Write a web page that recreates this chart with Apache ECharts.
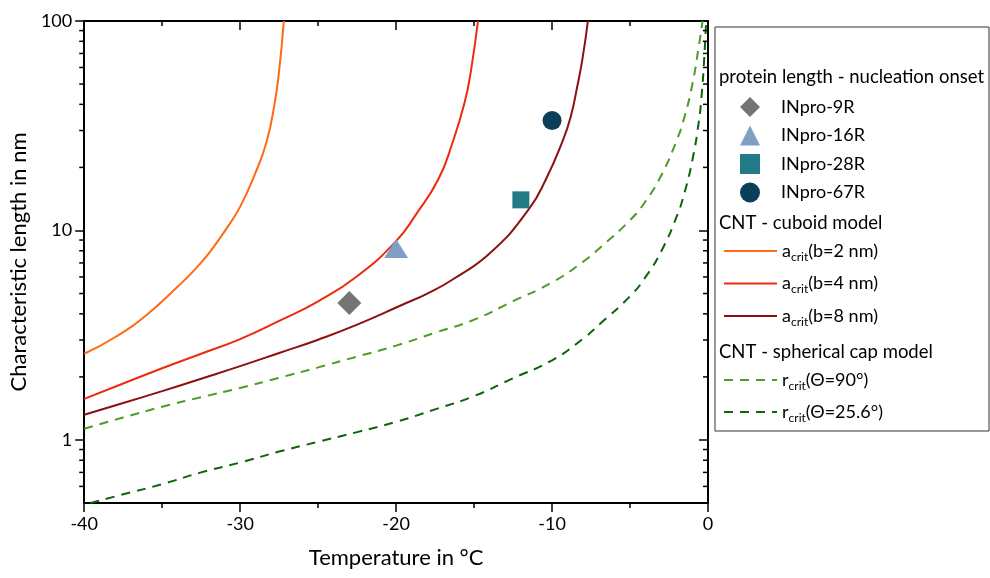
<!DOCTYPE html>
<html>
<head>
<meta charset="utf-8">
<script src="https://cdn.jsdelivr.net/npm/echarts@6.0.0/dist/echarts.min.js"></script>
<style>
  html, body { margin: 0; padding: 0; background: #fff; }
  #chart { width: 990px; height: 578px; }
</style>
</head>
<body>
<div id="chart"></div>
<script>
// values
const tempB2 = [-40, -38, -36, -34, -33, -32, -31, -30, -29, -28.3, -27.8, -27.5, -27.2];
const lenB2 = [2.58, 3.1, 3.95, 5.4, 6.4, 7.8, 9.9, 13.0, 19, 26.6, 40, 58, 100];

const tempB4 = [-40, -37.5, -35, -32.5, -30, -27.5, -25, -22.5, -20, -18.7, -17.3, -16.4, -15.6, -15.2, -14.75];
const lenB4 = [1.57, 1.86, 2.2, 2.58, 3.03, 3.7, 4.59, 6.05, 8.9, 12.0, 17.5, 26, 41, 58, 100];

const tempB8 = [-40, -37.5, -35, -32.5, -30, -27.5, -25, -22.5, -19.6, -18, -16.4, -13.9, -11.5, -10.4, -9.3, -8.8, -8.4, -8.05, -7.7];
const lenB8 = [1.32, 1.5, 1.71, 1.96, 2.25, 2.6, 3.01, 3.55, 4.42, 5.0, 5.82, 7.9, 12.6, 17.5, 27, 35, 48, 66, 100];

const tempCap90 = [-40, -37.5, -35, -32.5, -30, -27.5, -25, -22.5, -20, -17.5, -15, -12.5, -10, -8, -6.9, -5, -4, -3, -2, -1.5, -1, -0.6, -0.35];
const lenCap90 = [1.13, 1.28, 1.44, 1.6, 1.77, 1.98, 2.22, 2.5, 2.82, 3.25, 3.75, 4.6, 5.65, 7.1, 8.3, 11.2, 13.8, 18.3, 27, 35, 50, 75, 100];

const tempCap25 = [-39.6, -37.5, -35, -32.5, -30, -27.5, -25, -22.5, -20, -17.5, -15, -12.5, -10, -8, -6.9, -5, -4, -3, -2, -1.5, -1, -0.6, -0.4, -0.25, -0.12];
const lenCap25 = [0.5, 0.55, 0.615, 0.7, 0.78, 0.88, 0.98, 1.09, 1.22, 1.4, 1.62, 1.97, 2.4, 3.05, 3.6, 4.85, 6.0, 7.95, 11.7, 15.2, 21.7, 32.6, 45, 65, 100];

const proteinNames = ['INpro-9R', 'INpro-16R', 'INpro-28R', 'INpro-67R'];
const proteinTemp = [-23, -20, -12, -10];
const proteinLen = [4.5, 8.2, 14, 33.5];

const cuboidNames = ['acrit(b=2 nm)', 'acrit(b=4 nm)', 'acrit(b=8 nm)'];
const capNames = ['rcrit(Θ=90°)', 'rcrit(Θ=25.6°)'];
const legendLabels = {
  'acrit(b=2 nm)': 'a{sub|crit}(b=2 nm)',
  'acrit(b=4 nm)': 'a{sub|crit}(b=4 nm)',
  'acrit(b=8 nm)': 'a{sub|crit}(b=8 nm)',
  'rcrit(Θ=90°)': 'r{sub|crit}(Θ=90°)',
  'rcrit(Θ=25.6°)': 'r{sub|crit}(Θ=25.6°)'
};

const yMinorTicks = [0.6, 0.7, 0.8, 0.9, 2, 3, 4, 5, 6, 7, 8, 9, 20, 30, 40, 50, 60, 70, 80, 90];

const FONT = 'Lato';
const zip = (xs, ys) => xs.map((x, i) => [x, ys[i]]);

const markerStyle = [
  { symbol: 'diamond', size: 24, color: '#747474' },
  { symbol: 'triangle', size: [24, 19], color: '#809fc5' },
  { symbol: 'rect', size: 17, color: '#237b88' },
  { symbol: 'circle', size: 19, color: '#0b3e59' }
];

function curve(name, xs, ys, color, dashed) {
  return {
    name: name,
    type: 'line',
    data: zip(xs, ys),
    showSymbol: false,
    symbol: 'none',
    smooth: 0.5,
    lineStyle: { color: color, width: 2, type: dashed ? [9, 7] : 'solid' },
    itemStyle: { color: color },
    z: 3
  };
}

const series = [
  curve(cuboidNames[0], tempB2, lenB2, '#ff6a13'),
  curve(cuboidNames[1], tempB4, lenB4, '#ee2a0c'),
  curve(cuboidNames[2], tempB8, lenB8, '#8c1010'),
  curve(capNames[0], tempCap90, lenCap90, '#4e9a2a', true),
  curve(capNames[1], tempCap25, lenCap25, '#0a640a', true)
];

proteinNames.forEach((n, i) => {
  series.push({
    name: n,
    type: 'scatter',
    data: [[proteinTemp[i], proteinLen[i]]],
    symbol: markerStyle[i].symbol,
    symbolSize: markerStyle[i].size,
    itemStyle: { color: markerStyle[i].color, opacity: 1 },
    z: 4
  });
});

// minor ticks of the log axes (left outward, right inward)
series.push({
  type: 'custom',
  silent: true,
  clip: false,
  z: 6,
  data: yMinorTicks.map(v => [-40, v]),
  renderItem: function (params, api) {
    const p = api.coord([-40, api.value(1)]);
    const q = api.coord([0, api.value(1)]);
    const st = { stroke: '#000', lineWidth: 1.5 };
    return {
      type: 'group',
      children: [
        { type: 'line', shape: { x1: p[0] - 5, y1: p[1], x2: p[0], y2: p[1] }, style: st },
        { type: 'line', shape: { x1: q[0] - 5, y1: q[1], x2: q[0], y2: q[1] }, style: st }
      ]
    };
  }
});

const axisLine = { show: true, onZero: false, lineStyle: { color: '#000', width: 2 } };
const lineLegendText = {
  fontFamily: FONT,
  fontSize: 18,
  color: '#000',
  lineHeight: 20,
  rich: {
    sub: { fontFamily: FONT, fontSize: 12, lineHeight: 12, padding: [12, 0, 0, 0], color: '#000' }
  }
};

const chart = echarts.init(document.getElementById('chart'));
chart.setOption({
  animation: false,
  backgroundColor: '#fff',
  grid: { left: 78, right: 282, top: 21, bottom: 75 },
  xAxis: [
    {
      type: 'value',
      position: 'bottom',
      min: -40,
      max: 0,
      interval: 10,
      name: 'Temperature in °C',
      nameLocation: 'middle',
      nameGap: 44,
      nameTextStyle: { fontFamily: FONT, fontSize: 22, color: '#000' },
      axisLine: axisLine,
      axisTick: { show: true, length: 9, lineStyle: { color: '#000', width: 1.5 } },
      minorTick: { show: true, splitNumber: 2, length: 5, lineStyle: { color: '#000', width: 1.5 } },
      axisLabel: { fontFamily: FONT, fontSize: 18, color: '#000', margin: 12 },
      splitLine: { show: false }
    },
    {
      type: 'value',
      position: 'top',
      min: -40,
      max: 0,
      interval: 10,
      axisLine: axisLine,
      axisTick: { show: true, inside: true, length: 9, lineStyle: { color: '#000', width: 1.5 } },
      minorTick: { show: true, splitNumber: 2, length: 5, lineStyle: { color: '#000', width: 1.5 } },
      axisLabel: { show: false },
      splitLine: { show: false }
    }
  ],
  yAxis: [
    {
      type: 'log',
      logBase: 10,
      position: 'left',
      min: 0.5,
      max: 100,
      name: 'Characteristic length in nm',
      nameLocation: 'middle',
      nameGap: 40,
      nameTextStyle: { fontFamily: FONT, fontSize: 22, color: '#000' },
      axisLine: axisLine,
      axisTick: { show: true, length: 9, lineStyle: { color: '#000', width: 1.5 } },
      axisLabel: {
        fontFamily: FONT, fontSize: 18, color: '#000', margin: 12,
        showMinLabel: false
      },
      splitLine: { show: false }
    },
    {
      type: 'log',
      logBase: 10,
      position: 'right',
      min: 0.5,
      max: 100,
      axisLine: axisLine,
      axisTick: { show: true, inside: true, length: 9, lineStyle: { color: '#000', width: 1.5 } },
      axisLabel: { show: false },
      splitLine: { show: false }
    }
  ],
  legend: [
    {
      data: proteinNames,
      orient: 'vertical',
      left: 735,
      top: 92,
      itemWidth: 20,
      itemHeight: 20,
      itemGap: 8.5,
      selectedMode: false,
      textStyle: { fontFamily: FONT, fontSize: 18, color: '#000', lineHeight: 20, padding: [0, 0, 0, 16] }
    },
    {
      data: cuboidNames,
      orient: 'vertical',
      left: 718,
      top: 234,
      itemWidth: 53,
      itemHeight: 20,
      itemGap: 8.5,
      selectedMode: false,
      itemStyle: { opacity: 0, borderWidth: 0 },
      formatter: name => legendLabels[name],
      textStyle: lineLegendText
    },
    {
      data: capNames,
      orient: 'vertical',
      left: 718,
      top: 363,
      itemWidth: 53,
      itemHeight: 20,
      itemGap: 8,
      selectedMode: false,
      itemStyle: { opacity: 0, borderWidth: 0 },
      formatter: name => legendLabels[name],
      textStyle: lineLegendText
    }
  ],
  graphic: [
    {
      type: 'rect',
      shape: { x: 715, y: 27, width: 274, height: 404 },
      style: { fill: 'none', stroke: '#333', lineWidth: 1 },
      z: 0
    },
    {
      type: 'text', x: 719, y: 77,
      style: { text: 'protein length - nucleation onset', font: '18.5px ' + FONT, fill: '#000', verticalAlign: 'middle' }
    },
    {
      type: 'text', x: 719, y: 223,
      style: { text: 'CNT - cuboid model', font: '18.5px ' + FONT, fill: '#000', verticalAlign: 'middle' }
    },
    {
      type: 'text', x: 719, y: 352,
      style: { text: 'CNT - spherical cap model', font: '18.5px ' + FONT, fill: '#000', verticalAlign: 'middle' }
    }
  ],
  series: series
});
</script>
</body>
</html>
